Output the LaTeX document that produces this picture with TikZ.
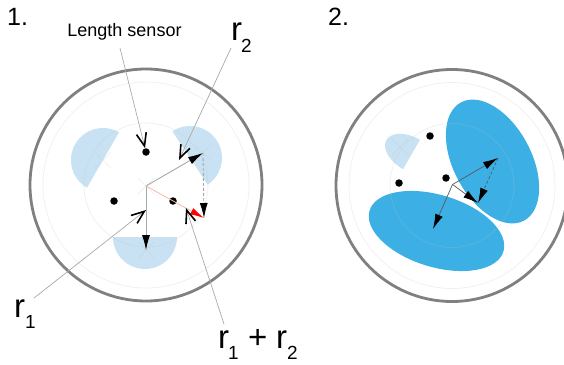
\documentclass[tikz,border=0pt]{standalone}
\usepackage{fontspec}
\setmainfont{Liberation Sans}
\usepackage{xcolor}
\usetikzlibrary{arrows.meta, positioning}
\definecolor{mygray}{HTML}{808080}
\definecolor{myline}{HTML}{A8A8A8}
\definecolor{mypale}{HTML}{C9E2F3}
\definecolor{myblue}{HTML}{3CB0E5}
\definecolor{mysalmon}{HTML}{F7B9A8}
\tikzset{
  >=latex,
  % Disco esterno e cerchi guida
  outer ring/.style={line width=2.8pt,draw=mygray},
  guide ring/.style={line width=0.7pt,draw=black!25,opacity=0.25},
  guide cross/.style={line width=0.7pt,draw=black!25,opacity=0.3},
  % Sensori e vettori
  sensor/.style={circle,fill=black,inner sep=0,minimum size=7.5pt},
  vector/.style={-{Latex[length=15,width=8,color=black]},line width=0.9pt,draw=myline},
  vector dark/.style={-{Latex[length=15,width=8,color=black]},line width=0.7pt,draw=black!65},
  vector dash/.style={vector,dash pattern=on 3pt off 2pt},
  vector red/.style={-{Latex[length=14,width=7,color=red]},line width=0.8pt,draw=mysalmon},
  pointer/.style={-{Straight Barb[length=13,width=10,color=black,line width=1.6pt]},line width=0.7pt,draw=myline},
  big label/.style={font=\fontsize{33}{33}\selectfont,inner sep=0},
  sub label/.style={font=\fontsize{19}{19}\selectfont,inner sep=0},
  step label/.style={font=\fontsize{25}{25}\selectfont,inner sep=0}
}
\begin{document}
\begin{tikzpicture}[x=1pt,y=-1pt]
    \useasboundingbox (0,0) rectangle (564,364);
    \clip (0,0) rectangle (564,364);
    % Pannello 1: segmenti chiari
    \foreach \cx/\cy/\ang in {190/158/-56.5,103/160/60,145/237/180}
      \fill[mypale,shift={(\cx,\cy)},rotate=\ang] (-32pt,0pt) arc[start angle=180,end angle=0,radius=32pt] -- cycle;
    \foreach \cx/\cy in {203/153,103/160,146/250,146/186}
      \draw[guide cross] (\cx-8,\cy-8) -- (\cx+8,\cy+8) (\cx-8,\cy+8) -- (\cx+8,\cy-8);
    % Cerchi del pannello 1
    \draw[outer ring] (146,185) circle[radius=116pt];
    \foreach \rad in {103,62}
      \draw[guide ring] (146,185) circle[radius=\rad pt];
    % Sensori del pannello 1
    \node[sensor] (sensor a) at (146,152) {};
    \node[sensor] (sensor b) at (114,201) {};
    \node[sensor] (sensor c) at (173,201) {};
    % Vettori del pannello 1
    \coordinate (origin a) at (146,186);
    \coordinate (tip r2) at (203,153);
    \coordinate (tip r1) at (146,250);
    \coordinate (tip sum) at (204,218);
    \draw[vector] (origin a) -- (tip r2);
    \draw[vector] (origin a) -- (tip r1);
    \draw[vector red] (origin a) -- (tip sum);
    \draw[vector dash] (tip r2) -- (tip sum);
    % Etichette del pannello 1
    \node[step label,anchor=west] (step one) at (7,17) {1.};
    \node[font=\fontsize{18}{18}\selectfont,inner sep=0] (length label) at (124.5,32) {Length sensor};
    \node[big label,anchor=base west] (r two) at (231,40) {r};
    \node[sub label,anchor=base west] (r two sub) at (241,52) {2};
    \node[big label,anchor=base west] (r one) at (14,317) {r};
    \node[sub label,anchor=base west] (r one sub) at (25,328) {1};
    \node[big label,anchor=base west] (sum a) at (218,348) {r};
    \node[sub label,anchor=base west] (sum a sub) at (228,359) {1};
    \node[big label,anchor=base west] (sum plus) at (248,348) {+};
    \node[big label,anchor=base west] (sum b) at (276,348) {r};
    \node[sub label,anchor=base west] (sum b sub) at (287,359) {2};
    % Frecce di richiamo
    \coordinate (from length) at (120,48);
    \coordinate (from r2) at (231,48);
    \coordinate (from r1) at (34,298);
    \coordinate (from sum) at (224,324);
    \coordinate (to r2) at (179,160);
    \coordinate (to r1) at (146,210);
    \coordinate (to sum) at (186,208);
    \draw[pointer] (from length) -- (sensor a);
    \draw[pointer] (from r2) -- (to r2);
    \draw[pointer] (from r1) -- (to r1);
    \draw[pointer] (from sum) -- (to sum);
    % Pannello 2
    \node[step label,anchor=west] (step two) at (328,17) {2.};
    \fill[myblue] (492.5,161.5) ellipse[x radius=67pt,y radius=39pt,rotate=-62];
    \fill[myblue] (436.5,231) ellipse[x radius=70pt,y radius=36pt,rotate=-17];
    \fill[mypale,shift={(411.5,154.5)},rotate=60] (-17pt,0pt) arc[start angle=180,end angle=0,x radius=17pt,y radius=29pt] -- cycle;
    \foreach \cx/\cy in {400/147}
      \draw[guide cross] (\cx-8,\cy-8) -- (\cx+8,\cy+8) (\cx-8,\cy+8) -- (\cx+8,\cy-8);
    \draw[outer ring] (452,185.5) circle[radius=116pt];
    \foreach \rad in {103,62}
      \draw[guide ring] (452,185.5) circle[radius=\rad pt];
    \node[sensor] (sensor d) at (430,136) {};
    \node[sensor] (sensor e) at (399,183) {};
    \node[sensor] (sensor f) at (446,178) {};
    \coordinate (origin b) at (452.5,184.5);
    \coordinate (tip q2) at (498,158);
    \coordinate (tip q1) at (433,229);
    \coordinate (tip qsum) at (478,203);
    \draw[vector dark] (origin b) -- (tip q2);
    \draw[vector dark] (origin b) -- (tip q1);
    \draw[vector dark] (origin b) -- (tip qsum);
    \draw[vector dark,dash pattern=on 3pt off 2pt] (tip q2) -- (tip qsum);
\end{tikzpicture}
\end{document}
